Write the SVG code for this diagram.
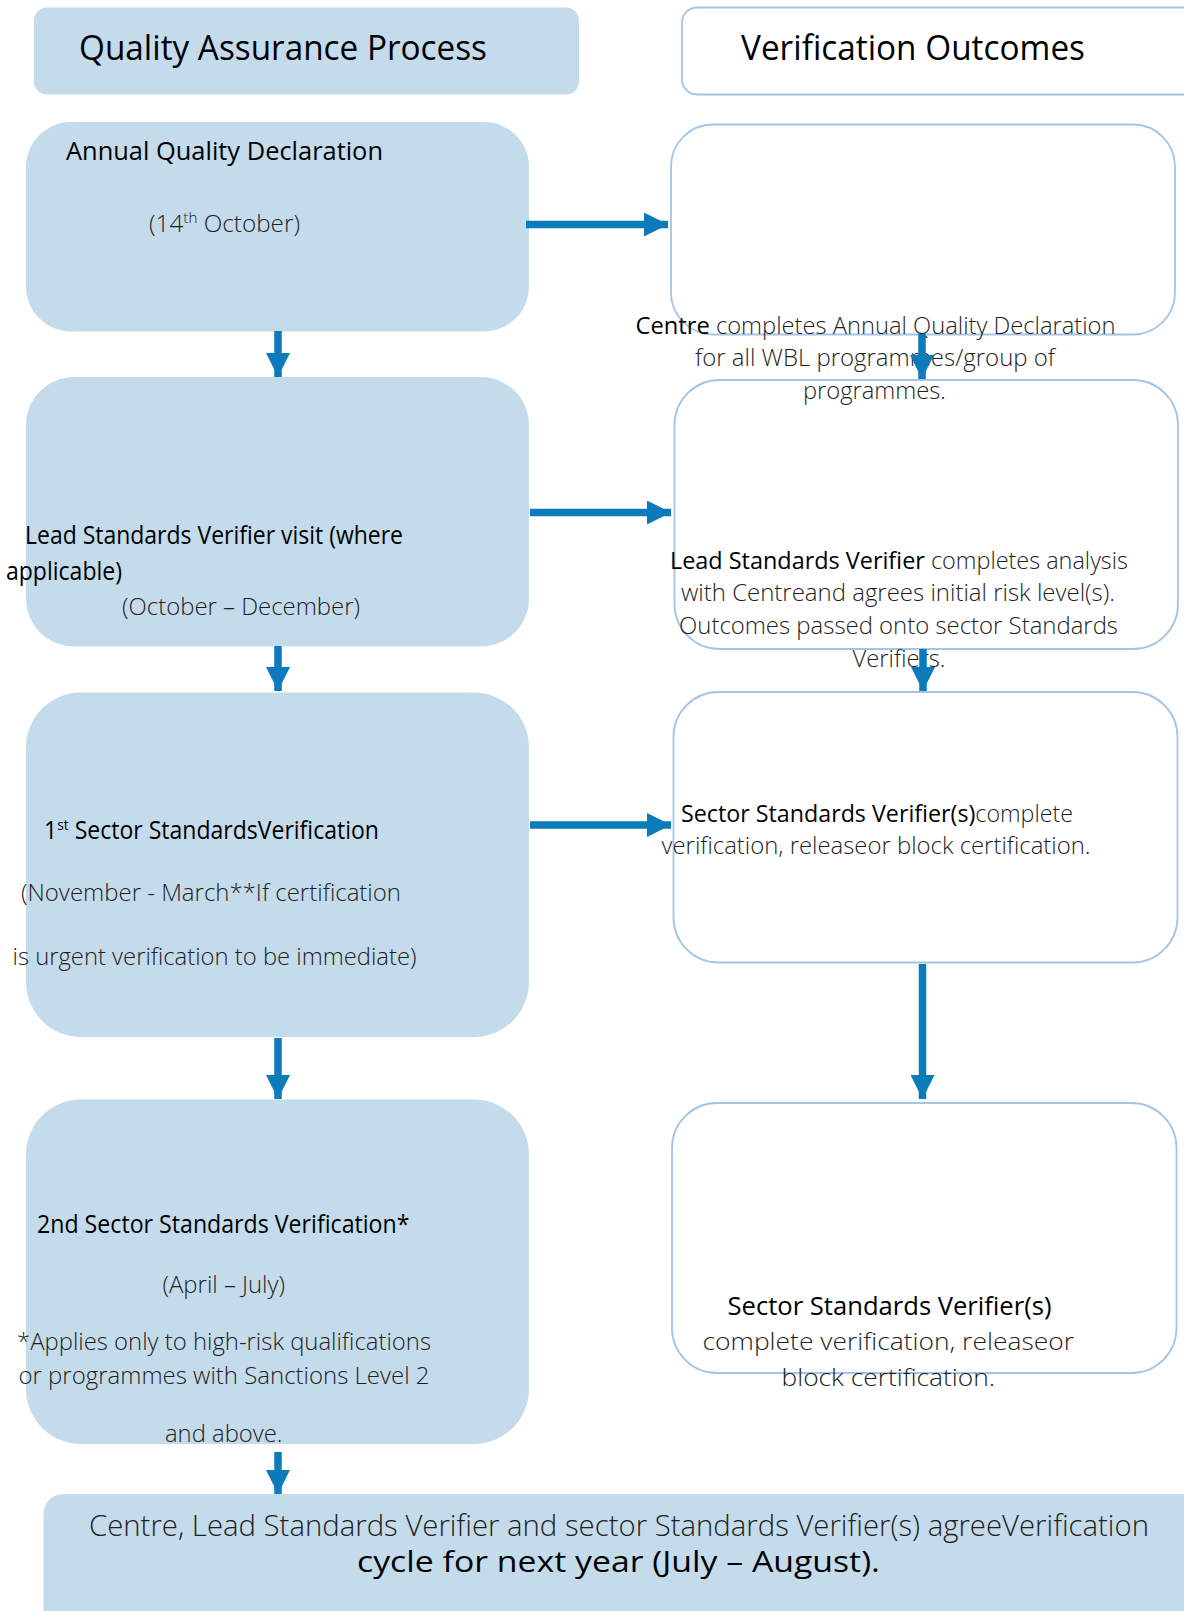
<svg xmlns="http://www.w3.org/2000/svg" width="1184" height="1611" viewBox="0 0 1184 1611">
<defs>
<style>
.lb{fill:#c4dbeb;stroke:none}
.rb{fill:none;stroke:#a3c4e6;stroke-width:1.8}
.t{font-family:"Open Sans","Liberation Sans",sans-serif}
.ttl{font-size:35px;font-weight:400;fill:#000}
.hd{font-size:25px;font-weight:400;fill:#000}
.bd{font-size:24px;font-weight:300;fill:#1e1e1e}
.dk{font-weight:400;fill:#000}
.ft{font-size:29px;font-weight:300;fill:#1e1e1e}
.ft2{font-size:29px;font-weight:400;fill:#000}
.ar{stroke:#0b7bbb;stroke-width:7.5;fill:none}
</style>
<marker id="ah" markerUnits="userSpaceOnUse" markerWidth="24" markerHeight="24" refX="24" refY="12" orient="auto">
<path d="M0,0 L24,12 L0,24 Z" fill="#0b7bbb"/>
</marker>
</defs>
<rect width="1184" height="1611" fill="#ffffff"/>

<g id="hdr-left">
<rect class="lb" x="34" y="7.5" width="545" height="87" rx="13"/>
<text class="t ttl" x="79" y="60" textLength="408" lengthAdjust="spacingAndGlyphs">Quality Assurance Process</text>
</g>

<g id="hdr-right">
<rect class="rb" x="682" y="7.5" width="520" height="87" rx="15"/>
<text class="t ttl" x="741" y="59.5" textLength="344" lengthAdjust="spacingAndGlyphs">Verification Outcomes</text>
</g>

<g id="aqd">
<rect class="lb" x="26" y="122" width="503" height="209.5" rx="45"/>
<text class="t hd" x="66" y="160" textLength="317" lengthAdjust="spacingAndGlyphs">Annual Quality Declaration</text>
<text class="t bd" x="149" y="231.5" textLength="151" lengthAdjust="spacingAndGlyphs">(14<tspan font-size="15" dy="-9">th</tspan><tspan dy="9"> October)</tspan></text>
</g>

<g id="out1">
<rect class="rb" x="671" y="124.5" width="504" height="210" rx="42"/>
<text class="t bd" x="635.5" y="333.5" textLength="480" lengthAdjust="spacingAndGlyphs"><tspan class="dk">Centre</tspan> completes Annual Quality Declaration</text>
<text class="t bd" x="695" y="365.5" textLength="360" lengthAdjust="spacingAndGlyphs">for all WBL programmes/group of</text>
<text class="t bd" x="803" y="398.5" textLength="143" lengthAdjust="spacingAndGlyphs">programmes.</text>
</g>

<g id="lsv">
<rect class="lb" x="26" y="377" width="503" height="269.5" rx="48"/>
<text class="t hd" x="25" y="543.5" font-size="24" textLength="378" lengthAdjust="spacingAndGlyphs">Lead Standards Verifier visit (where</text>
<text class="t hd" x="6" y="579.5" font-size="24" textLength="116" lengthAdjust="spacingAndGlyphs">applicable)</text>
<text class="t bd" x="122" y="615" textLength="238" lengthAdjust="spacingAndGlyphs">(October – December)</text>
</g>

<g id="out2">
<rect class="rb" x="674.5" y="380" width="503.5" height="269" rx="45"/>
<text class="t bd" x="670" y="568.5" textLength="458" lengthAdjust="spacingAndGlyphs"><tspan class="dk">Lead Standards Verifier</tspan> completes analysis</text>
<text class="t bd" x="681" y="600.5" textLength="434" lengthAdjust="spacingAndGlyphs">with Centreand agrees initial risk level(s).</text>
<text class="t bd" x="679" y="633.5" textLength="439" lengthAdjust="spacingAndGlyphs">Outcomes passed onto sector Standards</text>
<text class="t bd" x="852.5" y="666.5" textLength="93" lengthAdjust="spacingAndGlyphs">Verifiers.</text>
</g>

<g id="ssv1">
<rect class="lb" x="26" y="692.5" width="503" height="344.5" rx="55"/>
<text class="t hd" x="44" y="838.5" textLength="335" lengthAdjust="spacingAndGlyphs">1<tspan font-size="15" dy="-9">st</tspan><tspan dy="9"> Sector StandardsVerification</tspan></text>
<text class="t bd" x="21" y="900.5" textLength="380" lengthAdjust="spacingAndGlyphs">(November - March**If certification</text>
<text class="t bd" x="12.5" y="965" textLength="404" lengthAdjust="spacingAndGlyphs">is urgent verification to be immediate)</text>
</g>

<g id="out3">
<rect class="rb" x="673.5" y="692" width="504" height="270.5" rx="45"/>
<text class="t bd" x="681" y="821.5" textLength="392" lengthAdjust="spacingAndGlyphs"><tspan class="dk">Sector Standards Verifier(s)</tspan>complete</text>
<text class="t bd" x="661.5" y="853.5" textLength="429" lengthAdjust="spacingAndGlyphs">verification, releaseor block certification.</text>
</g>

<g id="ssv2">
<rect class="lb" x="26" y="1099.5" width="503" height="344.5" rx="55"/>
<text class="t hd" x="37" y="1232.5" textLength="372.5" lengthAdjust="spacingAndGlyphs">2nd Sector Standards Verification*</text>
<text class="t bd" x="162.5" y="1292.5" textLength="122.5" lengthAdjust="spacingAndGlyphs">(April – July)</text>
<text class="t bd" x="17" y="1350" textLength="414" lengthAdjust="spacingAndGlyphs">*Applies only to high-risk qualifications</text>
<text class="t bd" x="18.5" y="1383.5" textLength="411" lengthAdjust="spacingAndGlyphs">or programmes with Sanctions Level 2</text>
<text class="t bd" x="165" y="1441.5" textLength="117.5" lengthAdjust="spacingAndGlyphs">and above.</text>
</g>

<g id="out4">
<rect class="rb" x="672" y="1103" width="504.5" height="270" rx="45"/>
<text class="t hd" x="727.5" y="1315" textLength="324" lengthAdjust="spacingAndGlyphs">Sector Standards Verifier(s)</text>
<text class="t bd" x="702.5" y="1350" textLength="371.5" lengthAdjust="spacingAndGlyphs">complete verification, releaseor</text>
<text class="t bd" x="781.5" y="1386" textLength="213.5" lengthAdjust="spacingAndGlyphs">block certification.</text>
</g>

<g id="next">
<rect class="lb" x="43.5" y="1494" width="1170" height="150" rx="20"/>
<text class="t ft" x="89" y="1536" textLength="1060" lengthAdjust="spacingAndGlyphs">Centre, Lead Standards Verifier and sector Standards Verifier(s) agreeVerification</text>
<text class="t ft2" x="357" y="1571.5" textLength="523" lengthAdjust="spacingAndGlyphs">cycle for next year (July – August).</text>
</g>

<g id="connectors">
<line class="ar" x1="526" y1="224.5" x2="668" y2="224.5" marker-end="url(#ah)"/>
<line class="ar" x1="530" y1="512.5" x2="671" y2="512.5" marker-end="url(#ah)"/>
<line class="ar" x1="530" y1="825" x2="671" y2="825" marker-end="url(#ah)"/>
<line class="ar" x1="278" y1="331" x2="278" y2="377" marker-end="url(#ah)"/>
<line class="ar" x1="278" y1="646" x2="278" y2="691" marker-end="url(#ah)"/>
<line class="ar" x1="278" y1="1038" x2="278" y2="1099" marker-end="url(#ah)"/>
<line class="ar" x1="278" y1="1452" x2="278" y2="1494" marker-end="url(#ah)"/>
<line class="ar" x1="922" y1="334" x2="922" y2="379" marker-end="url(#ah)"/>
<line class="ar" x1="923" y1="649" x2="923" y2="691" marker-end="url(#ah)"/>
<line class="ar" x1="922.5" y1="964" x2="922.5" y2="1099" marker-end="url(#ah)"/>
</g>
</svg>
